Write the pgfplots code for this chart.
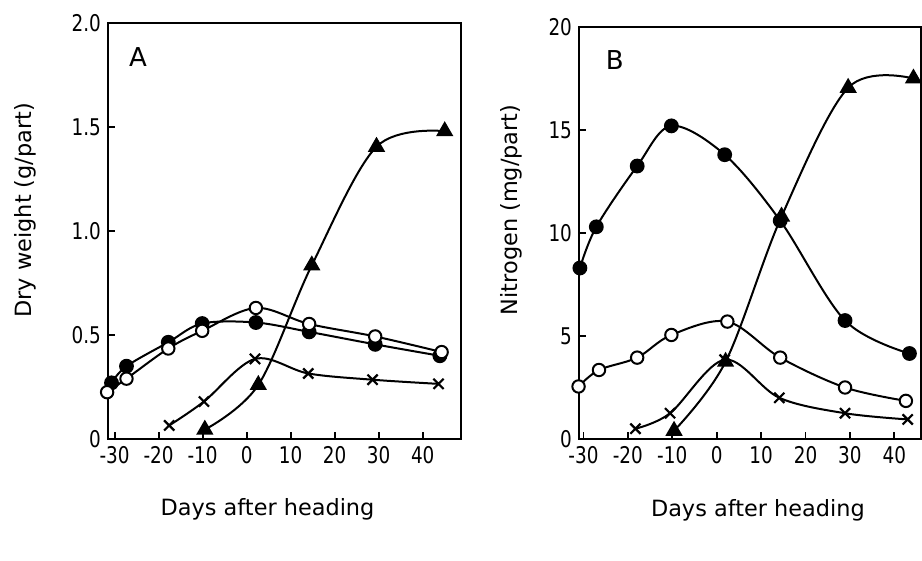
\documentclass[border=0pt]{standalone}
\usepackage{fontspec}
\setmainfont{DejaVu Sans}
\newfontfamily\tickfont[FakeStretch=0.8]{DejaVu Sans}
\usepackage{pgfplots}
\pgfplotsset{compat=1.18}
\pgfplotsset{
  panel/.style={
    scale only axis, clip=false,
    axis line style={line width=1pt},
    tick style={line width=0.9pt, black},
    tick align=inside, major tick length=3.5pt,
    xtick pos=left, ytick pos=left,
    xtick={-30,-20,-10,0,10,20,30,40},
    xticklabels={-30,-20,-10,0,10,20,30,40},
    tick label style={font=\tickfont\fontsize{11.5}{11.5}\selectfont},
    label style={font=\fontsize{11.2}{11.2}\selectfont},
    xlabel={Days after heading},
  },
  fc/.style={black, line width=1pt, smooth, tension=0.55, mark=*, mark size=3.2pt, mark options={fill=black}},
  oc/.style={black, line width=1pt, smooth, tension=0.55, mark=*, mark size=3.1pt, mark options={fill=white, line width=1pt}},
  xs/.style={black, line width=1pt, smooth, tension=0.55, mark=x, mark size=3.6pt, mark options={line width=1.1pt}},
  tr/.style={black, line width=1pt, smooth, tension=0.55, mark=triangle*, mark size=4pt, mark options={fill=black}},
}
\begin{document}
\begin{tikzpicture}
\path[use as bounding box] (0,0) rectangle (461pt,280.5pt);

% panel A: dry weight
\begin{axis}[panel, at={(54pt,61pt)}, anchor=south west,
  width=176.5pt, height=208pt,
  xmin=-31.5, xmax=48.7, ymin=0, ymax=2.0,
  ytick={0,0.5,1.0,1.5,2.0}, yticklabels={0,0.5,1.0,1.5,2.0},
  ylabel={Dry weight (g/part)},
  ylabel style={at={(axis description cs:-0.235,0.55)}, anchor=center},
  xlabel style={at={(axis description cs:0.452,-0.17)}, anchor=center}]
\addplot[fc] coordinates {(-30.7,0.27) (-27.3,0.35) (-17.8,0.465) (-10.1,0.555) (2.1,0.56) (14.2,0.515) (29.2,0.455) (43.9,0.40)};
\addplot[oc] coordinates {(-31.7,0.225) (-27.3,0.29) (-17.8,0.435) (-10.1,0.52) (2.1,0.63) (14.2,0.553) (29.2,0.493) (44.3,0.418)};
\addplot[xs] coordinates {(-17.6,0.065) (-9.7,0.18) (1.9,0.385) (14.0,0.315) (28.6,0.285) (43.6,0.265)};
\addplot[tr] coordinates {(-9.5,0.045) (2.65,0.26) (14.8,0.835) (29.5,1.405) (45,1.48)};
\node[font=\fontsize{13}{13}\selectfont] at (axis description cs:0.085,0.918) {A};
\end{axis}

% panel B: nitrogen
\begin{axis}[panel, at={(289.5pt,61pt)}, anchor=south west,
  width=171pt, height=206pt,
  xmin=-31, xmax=46, ymin=0, ymax=20,
  ytick={0,5,10,15,20}, yticklabels={0,5,10,15,20},
  ylabel={Nitrogen (mg/part)},
  ylabel style={at={(axis description cs:-0.199,0.556)}, anchor=center},
  xlabel style={at={(axis description cs:0.523,-0.172)}, anchor=center}]
\addplot[fc] coordinates {(-30.8,8.3) (-27.1,10.3) (-17.9,13.25) (-10.2,15.2) (1.8,13.8) (14.3,10.6) (28.9,5.75) (43.4,4.15)};
\addplot[oc] coordinates {(-31.1,2.55) (-26.5,3.35) (-17.9,3.95) (-10.2,5.05) (2.4,5.7) (14.3,3.95) (28.9,2.5) (42.6,1.85)};
\addplot[xs] coordinates {(-18.3,0.5) (-10.5,1.25) (1.8,3.85) (14.1,2.0) (28.9,1.25) (43,0.95)};
\addplot[tr] coordinates {(-9.6,0.4) (2.0,3.75) (14.6,10.8) (29.6,17.05) (44.3,17.5)};
\node[font=\fontsize{13}{13}\selectfont] at (axis description cs:0.105,0.92) {B};
\end{axis}
\end{tikzpicture}
\end{document}
